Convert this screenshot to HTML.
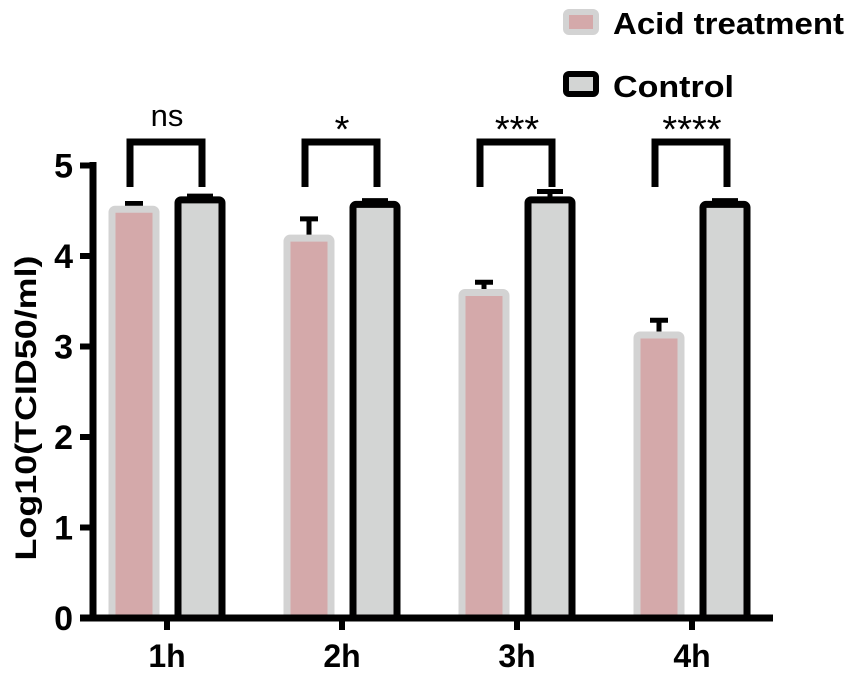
<!DOCTYPE html>
<html><head><meta charset="utf-8"><style>
body{margin:0;background:#fff;}
svg{display:block;font-family:"Liberation Sans",Arial,sans-serif;font-weight:bold;}
</style></head><body>
<svg id="c" width="851" height="677">
<text x="613" y="34" font-size="31" textLength="231" lengthAdjust="spacingAndGlyphs">Acid treatment</text>
<text x="613" y="97" font-size="31" textLength="121" lengthAdjust="spacingAndGlyphs">Control</text>
<rect x="566" y="12" width="30" height="20" rx="3" fill="#d4a9aa" stroke="#d3d3d3" stroke-width="6"/>
<rect x="566" y="74" width="30" height="20" rx="3" fill="#d3d5d4" stroke="#000" stroke-width="6"/>
<text transform="translate(36,408) rotate(-90)" text-anchor="middle" font-size="30" textLength="305" lengthAdjust="spacingAndGlyphs">Log10(TCID50/ml)</text>
</svg>
<script>
const categories=["1h","2h","3h","4h"];
const acidValues=[4.55,4.23,3.63,3.16];
const acidErr=[0.03,0.18,0.08,0.13];
const controlValues=[4.62,4.57,4.62,4.57];
const controlErr=[0.02,0.02,0.07,0.02];
const sigLabels=["ns","*","***","****"];
const yTicks=[0,1,2,3,4,5];
const NS="http://www.w3.org/2000/svg";
const svg=document.getElementById('c');
const y=v=>618-v*90.5;
const xc=i=>167+i*175;
function el(t,a){const e=document.createElementNS(NS,t);for(const k in a)e.setAttribute(k,a[k]);svg.appendChild(e);return e;}
categories.forEach((c,i)=>{
  const ax=xc(i)-33, cx=xc(i)+33;
  let top=y(acidValues[i]);
  let e=el('line',{x1:ax,x2:ax,y1:top,y2:y(acidValues[i]+acidErr[i]),stroke:'#000','stroke-width':5});
  
  
  e=el('line',{x1:ax-9,x2:ax+9,y1:y(acidValues[i]+acidErr[i]),y2:y(acidValues[i]+acidErr[i]),stroke:'#000','stroke-width':5});
  
  
  e=el('rect',{x:ax-22,y:top+3,width:44,height:615-top,fill:'#d4a9aa',stroke:'#d3d3d3','stroke-width':7,rx:3});
  
  
  top=y(controlValues[i]);
  e=el('line',{x1:cx,x2:cx,y1:top,y2:y(controlValues[i]+controlErr[i])-2,stroke:'#000','stroke-width':5});
  
  
  e=el('line',{x1:cx-13,x2:cx+13,y1:y(controlValues[i]+controlErr[i])-2,y2:y(controlValues[i]+controlErr[i])-2,stroke:'#000','stroke-width':5});
  
  
  e=el('rect',{x:cx-22,y:top,width:44,height:618-top,fill:'#d3d5d4',stroke:'#000','stroke-width':7,rx:3});
  
  
  e=el('path',{d:`M${ax-4},187 V142 H${cx+2} V187`,fill:'none',stroke:'#000','stroke-width':7});
  
  
  e=el('text',{x:(ax+cx)/2,y:i==0?126:142,'text-anchor':'middle','font-size':i==0?31:38,'font-weight':'normal'});
  e.textContent=sigLabels[i];
  
  
  e=el('line',{x1:xc(i),x2:xc(i),y1:618,y2:630,stroke:'#000','stroke-width':6});
  
  
  e=el('text',{x:xc(i),y:667,'text-anchor':'middle','font-size':32});
  e.textContent=c;
  
  
});
let a=el('line',{x1:93,x2:93,y1:162,y2:621,stroke:'#000','stroke-width':7});


a=el('line',{x1:80,x2:773,y1:618,y2:618,stroke:'#000','stroke-width':7});


yTicks.forEach(t=>{
  let e=el('line',{x1:80,x2:96,y1:y(t),y2:y(t),stroke:'#000','stroke-width':6});
  
  
  e=el('text',{x:73,y:y(t)+12,'text-anchor':'end','font-size':34});
  e.textContent=t;
  
  
});
</script>
</body></html>
